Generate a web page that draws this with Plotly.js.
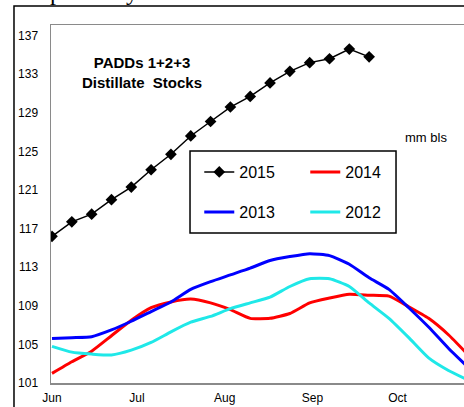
<!DOCTYPE html>
<html>
<head>
<meta charset="utf-8">
<script src="https://cdn.plot.ly/plotly-3.0.1.min.js"></script>
<style>html,body{margin:0;padding:0;background:#fff;}#chart{width:464px;height:407px;}</style>
</head>
<body>
<div id="chart"></div>
<script>
// Weekly dates (season axis, Jun–Oct)
const weeks = ["2015-06-01","2015-06-08","2015-06-15","2015-06-22","2015-06-29","2015-07-06","2015-07-13","2015-07-20","2015-07-27","2015-08-03","2015-08-10","2015-08-17","2015-08-24","2015-08-31","2015-09-07","2015-09-14","2015-09-21","2015-09-28","2015-10-05","2015-10-12","2015-10-19","2015-10-26"];
// mm bls
const s2015 = [116.2,117.7,118.5,120.0,121.3,123.1,124.7,126.6,128.1,129.6,130.7,132.1,133.3,134.2,134.6,135.6,134.8];
const s2014 = [102.0,103.2,104.3,105.9,107.5,108.8,109.4,109.7,109.3,108.6,107.7,107.7,108.2,109.3,109.8,110.2,110.1,110.0,108.9,107.7,106.0,103.9];
const s2013 = [105.6,105.7,105.8,106.5,107.4,108.4,109.4,110.7,111.5,112.2,112.9,113.7,114.1,114.4,114.2,113.3,111.9,110.7,108.8,106.8,104.6,102.6];
const s2012 = [104.8,104.2,104.0,103.9,104.4,105.2,106.3,107.3,107.9,108.7,109.3,109.9,111.0,111.8,111.8,111.0,109.3,107.7,105.7,103.6,102.3,101.3];
const monthTicks = ["2015-06-01","2015-07-01","2015-08-01","2015-09-01","2015-10-01"];
const monthLabels = ["Jun","Jul","Aug","Sep","Oct"];
const yTicks = [101,105,109,113,117,121,125,129,133,137];

const FONT = "Liberation Sans, Arial, sans-serif";

const traces = [
  {name:"2015", x:weeks.slice(0, s2015.length), y:s2015, type:"scatter", mode:"lines+markers",
   line:{color:"#000000", width:1.5}, marker:{symbol:"diamond", size:9, color:"#000000"}, legend:"legend"},
  {name:"2014", x:weeks, y:s2014, type:"scatter", mode:"lines",
   line:{color:"#ff0000", width:3, shape:"spline", smoothing:0.5}, legend:"legend"},
  {name:"2013", x:weeks, y:s2013, type:"scatter", mode:"lines",
   line:{color:"#0000ff", width:3, shape:"spline", smoothing:0.5}, legend:"legend2"},
  {name:"2012", x:weeks, y:s2012, type:"scatter", mode:"lines",
   line:{color:"#1fe8e8", width:3, shape:"spline", smoothing:0.5}, legend:"legend2"}
];

const legendCommon = {orientation:"h", xanchor:"left", yanchor:"middle", bgcolor:"rgba(0,0,0,0)",
  borderwidth:0, font:{family:FONT, size:16, color:"#000"}, entrywidth:61, entrywidthmode:"pixels", itemclick:false};

const layout = {
  width:464, height:407,
  margin:{l:51, r:0, t:25, b:24, pad:0},
  paper_bgcolor:"#ffffff", plot_bgcolor:"#ffffff",
  font:{family:FONT, color:"#000"},
  showlegend:true,
  legend:Object.assign({}, legendCommon, {x:0.359, y:0.5894}),
  legend2:Object.assign({}, legendCommon, {x:0.359, y:0.4777}),
  xaxis:{type:"date", range:["2015-05-31 15:30","2015-10-24 12:00"], tickmode:"array",
    tickvals:monthTicks, ticktext:monthLabels, showgrid:false, zeroline:false,
    showline:true, linecolor:"#8a8a8a", linewidth:1.5, mirror:true, ticks:"",
    ticklabelstandoff:3, tickfont:{family:FONT, size:12, color:"#000"}},
  yaxis:{range:[101,138.1], tickmode:"array", tickvals:yTicks, showgrid:false, zeroline:false,
    showline:true, linecolor:"#8a8a8a", linewidth:1.5, ticks:"",
    ticklabelstandoff:9, tickfont:{family:FONT, size:12, color:"#000"}},
  shapes:[
    {type:"rect", xref:"paper", yref:"paper", x0:-0.0896, x1:1.05, y0:-0.2, y1:1.0531,
     line:{color:"#000", width:1.5}, fillcolor:"rgba(0,0,0,0)", layer:"below"},
    {type:"rect", xref:"paper", yref:"paper", x0:0.3366, x1:0.8354, y0:0.419, y1:0.648,
     line:{color:"#000", width:1.5}, fillcolor:"#ffffff", layer:"above"}
  ],
  annotations:[
    {text:"<b>PADDs 1+2+3<br>Distillate  Stocks</b>", xref:"paper", yref:"paper", x:0.2215, y:0.867,
     xanchor:"center", yanchor:"middle", showarrow:false, align:"center", font:{family:FONT, size:15, color:"#000"}},
    {text:"mm bls", xref:"paper", yref:"paper", x:0.908, y:0.687, xanchor:"center", yanchor:"middle",
     showarrow:false, font:{family:FONT, size:13, color:"#000"}},
    {text:"respectively.", xref:"paper", yref:"paper", x:-0.075, y:1.05, xanchor:"left", yanchor:"bottom",
     showarrow:false, font:{family:"Liberation Serif, Times New Roman, serif", size:24, color:"#000"}}
  ]
};

Plotly.newPlot("chart", traces, layout, {staticPlot:true, displayModeBar:false});
</script>
</body>
</html>
